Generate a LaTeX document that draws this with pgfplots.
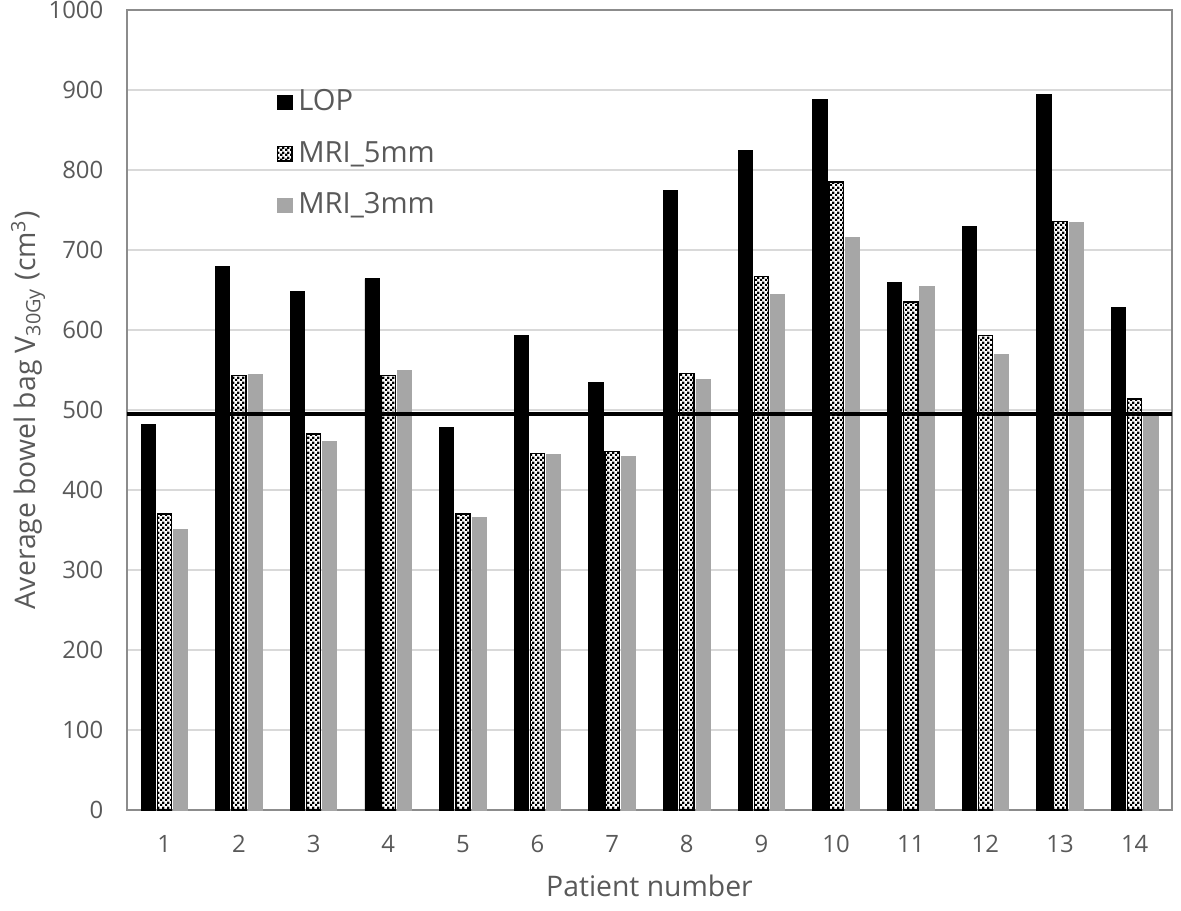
\documentclass[border=0pt]{standalone}
\usepackage{pgfplots}
\pgfplotsset{compat=1.18}
\usepackage{fontspec}
\setmainfont{Open Sans}
\usetikzlibrary{patterns}

\definecolor{txtgray}{HTML}{595959}
\definecolor{gridgray}{HTML}{D9D9D9}
\definecolor{framegray}{HTML}{8C8C8C}
\definecolor{mri3}{HTML}{A6A6A6}

% fine checkerboard for the MRI_5mm bars
\pgfdeclarepatternformonly{finecheck}{\pgfpointorigin}{\pgfqpoint{1.8pt}{1.8pt}}{\pgfqpoint{1.8pt}{1.8pt}}{%
  \pgfpathrectangle{\pgfpointorigin}{\pgfqpoint{0.95pt}{0.95pt}}%
  \pgfpathrectangle{\pgfqpoint{0.9pt}{0.9pt}}{\pgfqpoint{0.95pt}{0.95pt}}%
  \pgfusepath{fill}}

\pgfplotstableread{
pat LOP MRIfive MRIthree
1  482 370 351
2  679 543 545
3  648 470 461
4  664 543 550
5  478 370 366
6  593 446 444
7  534 448 442
8  775 546 538
9  825 667 645
10 888 785 716
11 660 635 655
12 729 593 570
13 894 736 735
14 628 514 495
}\datatable

\begin{document}
\begin{tikzpicture}[x=1pt,y=1pt]
% page = 1181 x 910 px at 0.36pt per px; axis box at px (127..1172, 10..810)
\path[use as bounding box] (-45.72,-36) rectangle (379.44,291.6);
\begin{axis}[
  at={(0,0)}, anchor=south west,
  scale only axis,
  width=376.2pt, height=288pt,
  ybar,
  bar width=0.19,
  xmin=0.5, xmax=14.5,
  ymin=0, ymax=1000,
  xtick={1,...,14},
  ytick={0,100,...,1000},
  major tick length=0pt,
  ymajorgrids,
  grid style={gridgray, line width=0.6pt},
  axis line style={framegray, line width=0.6pt},
  /pgf/number format/assume math mode=true,
  /pgf/number format/1000 sep={},
  tick label style={font=\fontsize{8.6}{10}\selectfont, text=txtgray},
  xticklabel style={yshift=-5.5pt},
  yticklabel style={xshift=-5pt},
  xlabel={Patient number},
  ylabel={Average bowel bag V\textsubscript{30Gy} (cm\textsuperscript{3})},
  label style={font=\fontsize{10.2}{12}\selectfont, text=txtgray},
  xlabel style={at={(axis description cs:0.5,-0.095)}, anchor=center},
  ylabel style={at={(axis description cs:-0.0947,0.5)}, anchor=center},
  legend style={at={(0.135,0.915)}, anchor=north west, draw=none, fill=none,
    font=\fontsize{10.5}{12}\selectfont, text=txtgray, row sep=5.5pt,
    legend cell align=left},
  legend image code/.code={\draw[#1] (0pt,-2.6pt) rectangle (5.2pt,2.6pt);},
]
\addplot[fill=black, draw=black, line width=0.3pt, bar shift=-0.217]
  table[x=pat, y=LOP] {\datatable};
\addlegendentry{LOP}
\addplot[pattern=finecheck, pattern color=black, draw=black, line width=0.5pt, bar shift=0]
  table[x=pat, y=MRIfive] {\datatable};
\addlegendentry{MRI\_5mm}
\addplot[fill=mri3, draw=mri3, line width=0.3pt, bar shift=0.217]
  table[x=pat, y=MRIthree] {\datatable};
\addlegendentry{MRI\_3mm}
\addplot[sharp plot, black, line width=1.1pt, forget plot]
  coordinates {(0.5,495) (14.5,495)};
\end{axis}
\end{tikzpicture}
\end{document}
